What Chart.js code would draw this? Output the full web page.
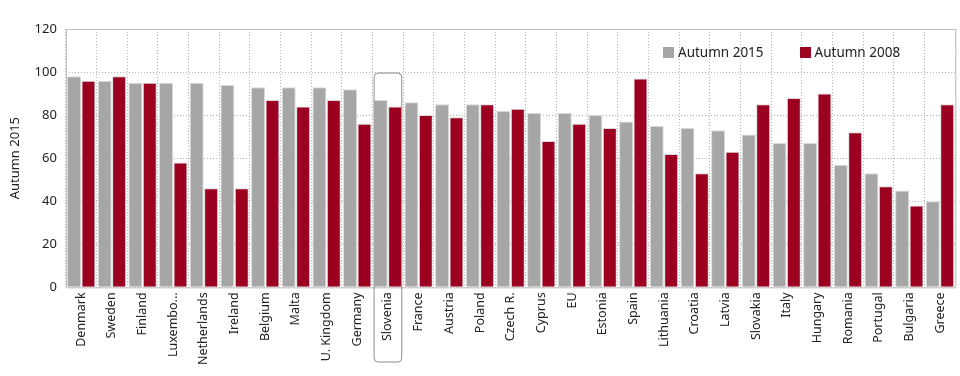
<!DOCTYPE html>
<html>
<head>
<meta charset="utf-8">
<script src="https://cdn.jsdelivr.net/npm/chart.js@4"></script>
<style>
  html, body { margin: 0; padding: 0; background: #fff; }
  #wrap { position: relative; width: 960px; height: 376px; }
  #legend { position: absolute; left: 663px; top: 43px; font: 13.5px "Noto Sans", sans-serif; color: #222; display: flex; gap: 36px; }
  #legend span { display: inline-flex; align-items: center; }
  #legend i { display: inline-block; width: 11px; height: 11px; margin-right: 4px; }
</style>
</head>
<body>
<div id="wrap">
  <canvas id="chart" width="960" height="376"></canvas>
  <div id="legend">
    <span><i style="background:#a6a6a6"></i>Autumn 2015</span>
    <span><i style="background:#9b0020"></i>Autumn 2008</span>
  </div>
</div>
<script>
// Countries, ordered as in the source chart
const countries = ['Denmark', 'Sweden', 'Finland', 'Luxembo...', 'Netherlands', 'Ireland', 'Belgium', 'Malta',
    'U. Kingdom', 'Germany', 'Slovenia', 'France', 'Austria', 'Poland', 'Czech R.', 'Cyprus', 'EU', 'Estonia',
    'Spain', 'Lithuania', 'Croatia', 'Latvia', 'Slovakia', 'Italy', 'Hungary', 'Romania', 'Portugal',
    'Bulgaria', 'Greece'];
const autumn2015 = [98, 96, 95, 95, 95, 94, 93, 93, 93, 92, 87, 86, 85, 85, 82, 81, 81, 80, 77, 75, 74, 73, 71,
    67, 67, 57, 53, 45, 40];
const autumn2008 = [96, 98, 95, 58, 46, 46, 87, 84, 87, 76, 84, 80, 79, 85, 83, 68, 76, 74, 97, 62, 53, 63, 85,
    88, 90, 72, 47, 38, 85];
const yTicks = [0, 20, 40, 60, 80, 100, 120];
const highlight = 'Slovenia';

const FONT = '"Noto Sans", sans-serif';

// box round the plot area + rounded frame round the highlighted label
const framePlugin = {
    id: 'frame',
    afterDraw(chart) {
        const { ctx, chartArea: a, scales } = chart;
        ctx.save();
        ctx.strokeStyle = '#bfbfbf';
        ctx.lineWidth = 1;
        ctx.strokeRect(a.left + 0.5, a.top + 0.5, a.right - a.left, a.bottom - a.top);

        const i = countries.indexOf(highlight);
        const cx = scales.x.getPixelForValue(i);
        const half = (scales.x.getPixelForValue(1) - scales.x.getPixelForValue(0)) / 2 - 1.5;
        const x0 = cx - half, x1 = cx + half;
        const y0 = scales.y.getPixelForValue(100) + 1, y1 = 362, r = 4;
        ctx.strokeStyle = '#8c8c8c';
        ctx.beginPath();
        ctx.moveTo(x0 + r, y0);
        ctx.arcTo(x1, y0, x1, y1, r);
        ctx.arcTo(x1, y1, x0, y1, r);
        ctx.arcTo(x0, y1, x0, y0, r);
        ctx.arcTo(x0, y0, x1, y0, r);
        ctx.closePath();
        ctx.stroke();
        ctx.restore();
    }
};

new Chart(document.getElementById('chart').getContext('2d'), {
    type: 'bar',
    data: {
        labels: countries,
        datasets: [
            { label: 'Autumn 2015', data: autumn2015, backgroundColor: '#a6a6a6', borderColor: '#d9d9d9', borderWidth: 1 },
            { label: 'Autumn 2008', data: autumn2008, backgroundColor: '#9b0020', borderColor: '#d9d9d9', borderWidth: 1 },
        ]
    },
    options: {
        responsive: false,
        animation: false,
        layout: { padding: { top: 29, right: 1, left: 7, bottom: 6 } },
        datasets: { bar: { barPercentage: 0.97, categoryPercentage: 0.94 } },
        plugins: { legend: { display: false }, tooltip: { enabled: false } },
        scales: {
            x: {
                grid: { color: '#b4b4b4', offset: true, drawTicks: false },
                border: { display: false, dash: [1, 2] },
                ticks: { minRotation: 90, maxRotation: 90, autoSkip: false, padding: 5,
                    color: '#222', font: { family: FONT, size: 12.5 } }
            },
            y: {
                min: 0, max: 120,
                afterBuildTicks: (s) => { s.ticks = yTicks.map(v => ({ value: v })); },
                grid: { color: '#b4b4b4', drawTicks: false },
                border: { display: false, dash: [1, 2] },
                title: { display: true, text: 'Autumn 2015', color: '#222', font: { family: FONT, size: 13 }, padding: { top: 0, bottom: 3 } },
                ticks: { padding: 9, color: '#222', font: { family: FONT, size: 13 } }
            }
        }
    },
    plugins: [framePlugin]
});
</script>
</body>
</html>
